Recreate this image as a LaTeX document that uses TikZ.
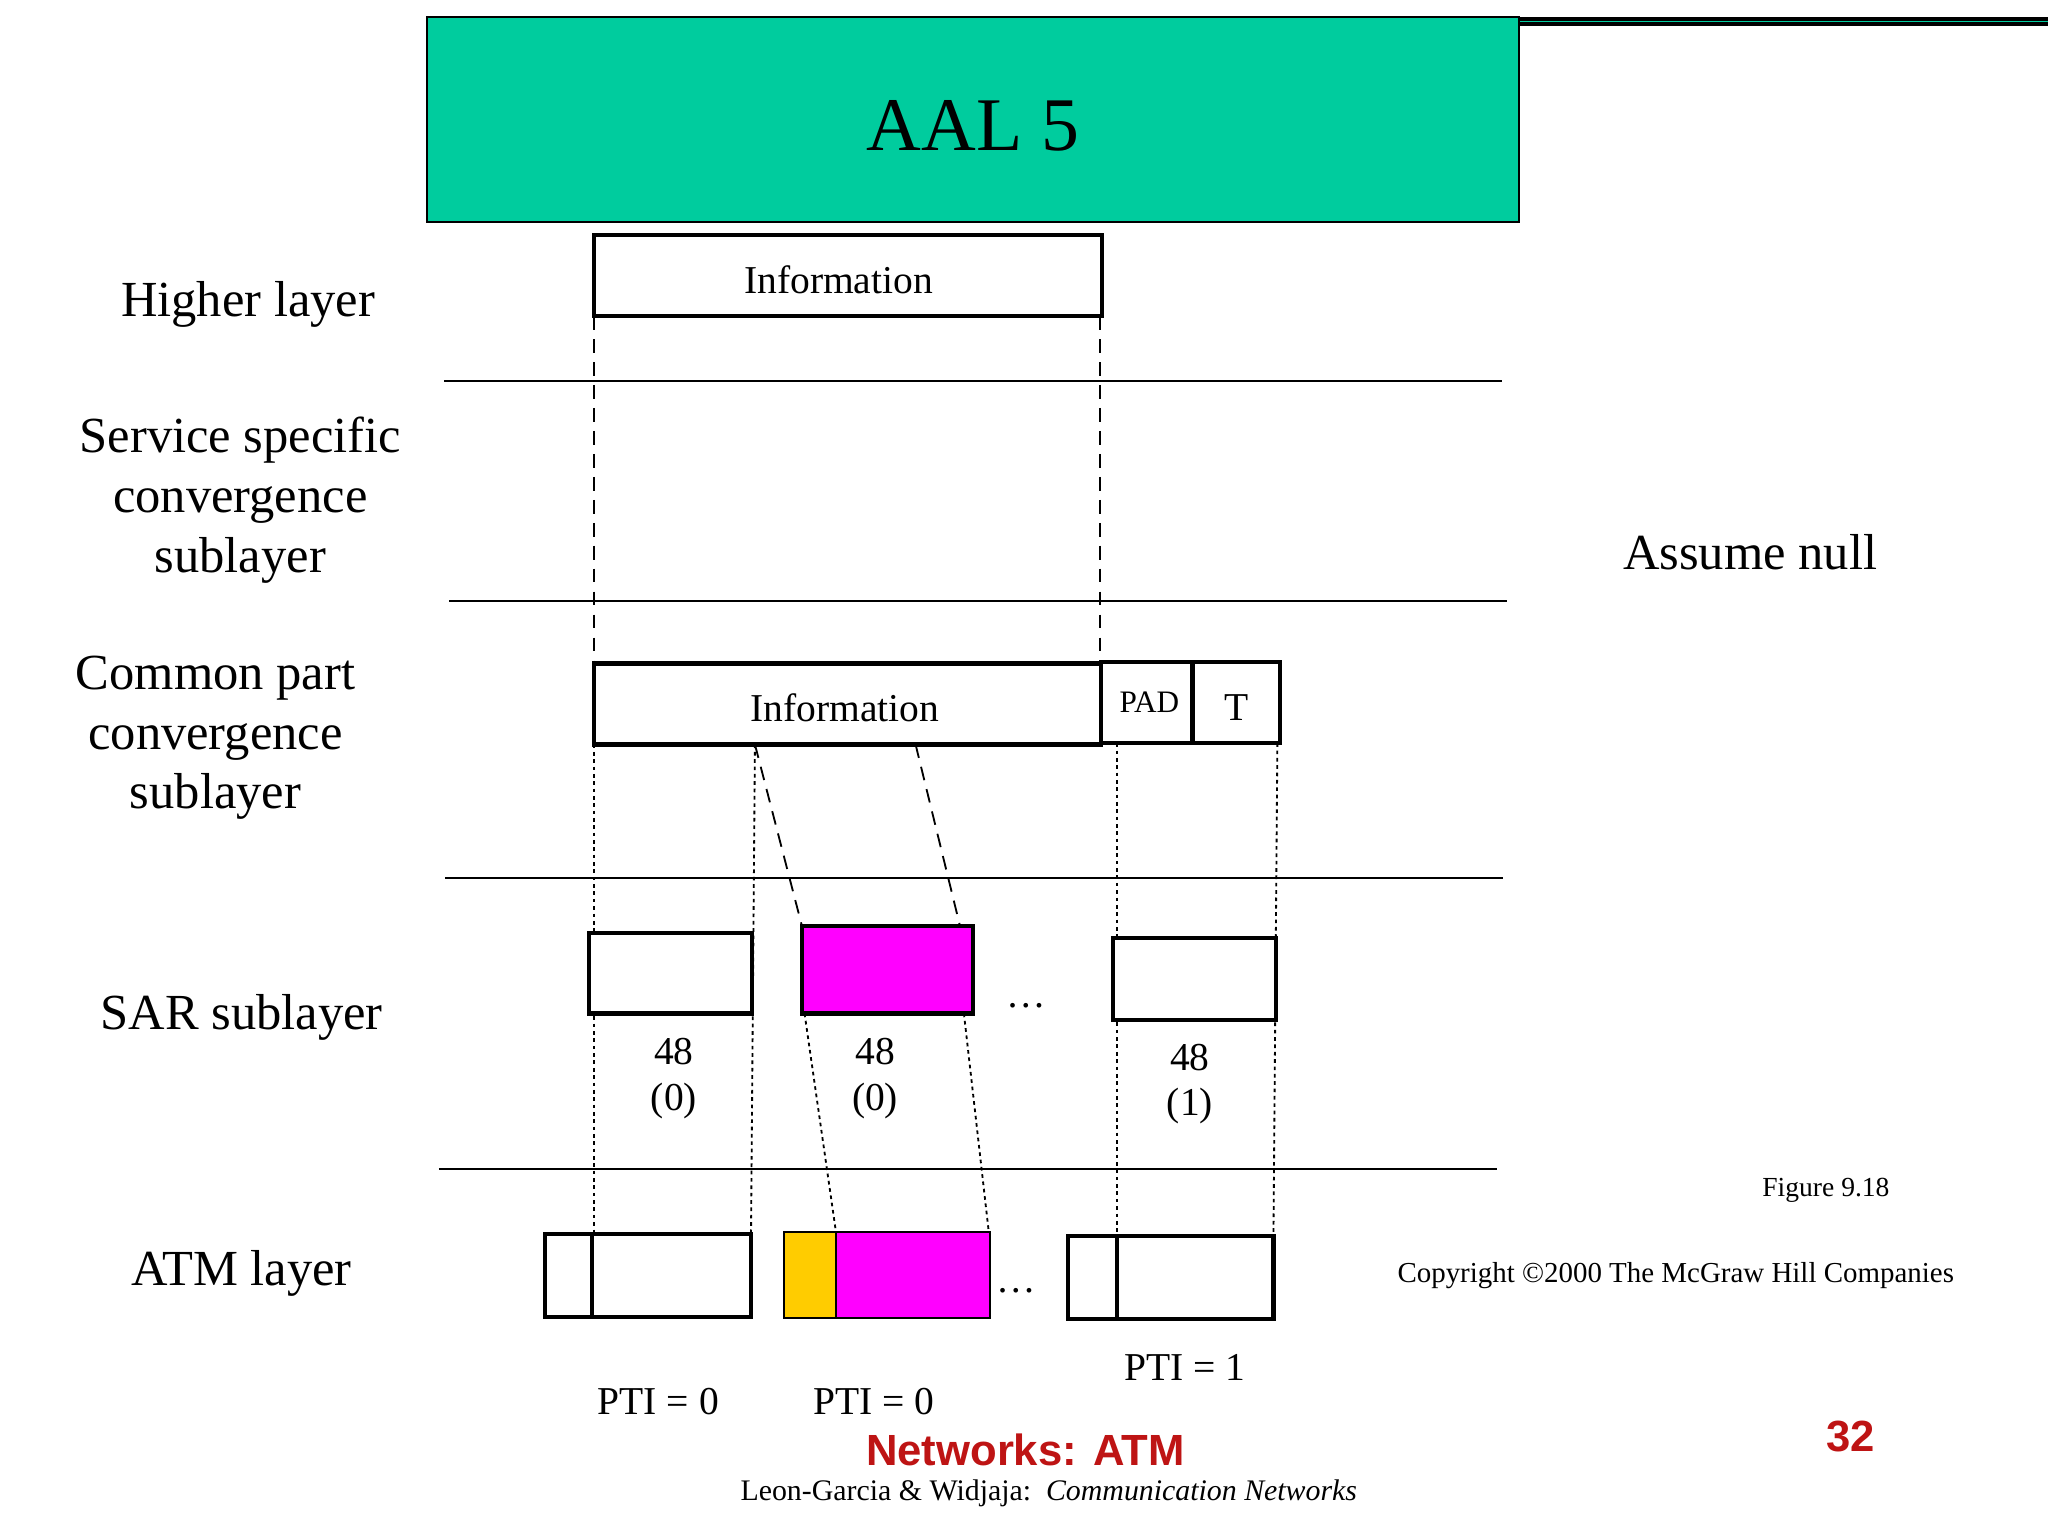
\documentclass[tikz,border=0pt]{standalone}
\usepackage{fontspec}
\setmainfont{Liberation Serif}
\newfontfamily\netfont{Liberation Sans}
\begin{document}
\begin{tikzpicture}[x=0.01cm,y=-0.01cm,
  box/.style={draw,line width=0.9pt},
  sep/.style={line width=0.45pt},
  dsh/.style={line width=0.4pt,dash pattern=on 3pt off 2pt},
  dot/.style={line width=0.4pt,dash pattern=on 0.8pt off 0.8pt},
  lbl/.style={font=\fontsize{11pt}{13pt}\selectfont,align=center},
  inf/.style={font=\fontsize{8.6pt}{10pt}\selectfont,align=center}]
\useasboundingbox[fill=white] (0,0) rectangle (1568,1176);
\definecolor{aal}{RGB}{0,204,158}
\definecolor{mag}{RGB}{255,0,255}
\definecolor{yel}{RGB}{255,204,0}
\definecolor{net}{RGB}{190,20,20}
\node[box,fill=aal,minimum width=836\pgflinewidth,inner sep=0,anchor=north west] (aal) at (327,13) {};
\draw[line width=0.6pt,fill=aal] (327,13) rectangle (1163,170);
\node[font=\fontsize{16.5pt}{18pt}\selectfont] (aalt) at (745,96) {AAL 5};
% info top
\draw[box] (455,180) rectangle (844,242);
\node[inf] (i1) at (642,214) {Information};
% separators
\draw[sep] (340,292) -- (1150,292);
\draw[sep] (344,460) -- (1154,460);
\draw[sep] (341,672) -- (1151,672);
\draw[sep] (336,895) -- (1146,895);
% dashed
\draw[dsh] (455,242) -- (455,508);
\draw[dsh] (842,242) -- (842,508);
% CPCS
\draw[box] (455,508) rectangle (843,570);
\node[inf] (i2) at (647,542) {Information};
\draw[box] (843,507) rectangle (913,569);
\draw[box] (913,507) rectangle (980,569);
\node[font=\fontsize{6.8pt}{8pt}\selectfont] (pad) at (880,538) {PAD};
\node[inf] (t) at (947,542) {T};
% dotted
\draw[dot] (455,570) -- (455,945);
\draw[dot] (578,570) -- (575,945);
\draw[dot] (855,569) -- (855,946);
\draw[dot] (978,569) -- (975,946);
\draw[dsh] (578,570) -- (614,709);
\draw[dsh] (701,570) -- (735,709);
\draw[dot] (616,776) -- (640,943);
\draw[dot] (738,776) -- (757,943);
% SAR
\draw[box,fill=white] (451,714) rectangle (576,776);
\draw[box,fill=mag] (614,709) rectangle (745,776);
\draw[box,fill=white] (852,718) rectangle (977,781);
\node[inf] (d1) at (786,770) {\dots};
\node[inf] (s1) at (516,826) {48\\(0)};
\node[inf] (s2) at (670,826) {48\\(0)};
\node[inf] (s3) at (911,830) {48\\(1)};
% ATM
\draw[box,fill=white] (417,945) rectangle (575,1008);
\draw[box] (453,945) -- (453,1008);
\draw[line width=0.5pt,fill=yel] (600,943) rectangle (640,1009);
\draw[line width=0.5pt,fill=mag] (640,943) rectangle (758,1009);
\draw[box,fill=white] (818,946) rectangle (975,1010);
\draw[box] (855,946) -- (855,1010);
\node[inf] (d2) at (778,988) {\dots};
\node[inf] (p1) at (504,1073) {PTI = 0};
\node[inf] (p2) at (669,1073) {PTI = 0};
\node[inf] (p3) at (907,1047) {PTI = 1};
% left labels
\node[lbl] (l1) at (190,233) {Higher layer};
\node[lbl] (l2) at (184,383) {Service specific\\convergence\\sublayer};
\node[lbl] (l3) at (165,565) {Common part\\convergence\\sublayer};
\node[lbl] (l4) at (185,779) {SAR sublayer};
\node[lbl] (l5) at (185,975) {ATM layer};
\node[lbl] (an) at (1340,423) {Assume null};
\node[font=\fontsize{6pt}{7pt}\selectfont] (fig) at (1398,911) {Figure 9.18};
\node[font=\fontsize{6.3pt}{7pt}\selectfont] (cp) at (1283,977) {Copyright \textcopyright2000 The McGraw Hill Companies};
\node[font=\netfont\bfseries\fontsize{9.5pt}{11pt}\selectfont,text=net] (nt) at (785,1110) {Networks: ATM};
\node[font=\netfont\bfseries\fontsize{9.5pt}{11pt}\selectfont,text=net] (pg) at (1417,1100) {32};
\node[font=\fontsize{6.5pt}{8pt}\selectfont] (ft) at (803,1143) {Leon-Garcia \& Widjaja:\ \ \textit{Communication Networks}};
\end{tikzpicture}
\end{document}
